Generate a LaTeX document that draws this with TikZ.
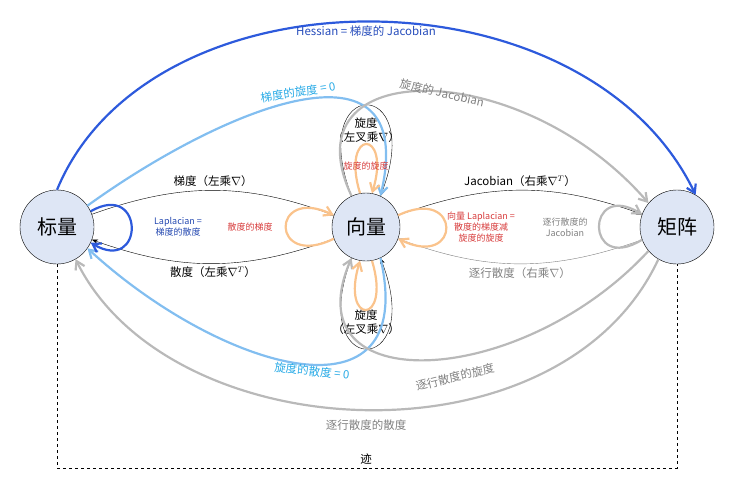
\documentclass[tikz,border=0pt]{standalone}
\usepackage{fontspec}
\setmainfont{Noto Sans CJK SC}
\usepackage{tikz}
\usetikzlibrary{arrows.meta}
\definecolor{deepblue}{RGB}{45,90,220}
\definecolor{skyblue}{RGB}{130,190,240}
\definecolor{skytext}{RGB}{40,170,230}
\definecolor{lightgray}{RGB}{185,185,185}
\definecolor{peach}{RGB}{250,195,140}
\definecolor{labred}{RGB}{215,60,60}
\definecolor{fillblue}{RGB}{222,230,245}
\tikzset{
  state/.style={shape=circle,draw=black,fill=fillblue,minimum size=74pt,font=\fontsize{20}{22}\selectfont},
  lbl/.style={font=\fontsize{11.5}{13.5}\selectfont,align=center},
  slbl/.style={font=\fontsize{9}{11}\selectfont,align=center},
  thin arrow/.style={-{Stealth[length=6pt]},thin},
  big arrow/.style={-{Straight Barb[length=8pt,width=10pt]},line width=2.2pt}
}
\begin{document}
\begin{tikzpicture}[x=1pt,y=-1pt]
	\useasboundingbox (0,0) rectangle (735,483);

	\node[state] (s) at (57, 227)  {标量};
	\node[state,minimum size=68pt] (v) at (366, 227) {向量};
	\node[state] (m) at (677, 227) {矩阵};

	% trace
	\draw[dashed,thin] (s.south) |- (366,468) node[above,lbl] (tr) {迹} -| (m.south);

	% black edges
	\path[thin arrow] (s) edge[bend left=20] node[above,lbl] {梯度（左乘$\nabla$）} (v);
	\path[thin arrow] (v) edge[bend left=20] node[below,lbl] {散度（左乘$\nabla^T$）} (s);
	\path[thin arrow] (v) edge[bend left=20] node[above,lbl] {Jacobian（右乘$\nabla^T$）} (m);
	\path[thin arrow,draw=gray] (m) edge[bend left=20] node[below,lbl,text=gray] {逐行散度（右乘$\nabla$）} (v);
	\draw[thin arrow] (v.115) .. controls (305,75) and (427,75) .. (v.65);
	\node[lbl] (c1) at (366, 130) {旋度\\（左叉乘$\nabla$）};
	\draw[thin arrow] (v.-115) .. controls (305,379) and (427,379) .. (v.-65);
	\node[lbl] (c2) at (366, 322) {旋度\\（左叉乘$\nabla$）};

	% second-order
	\draw[big arrow,draw=deepblue] (s.north) .. controls (150,-35) and (585,-35) .. (m.60);
	\node[lbl,text=deepblue!85!black] (hs) at (366, 31) {Hessian = 梯度的 Jacobian};
	\draw[big arrow,draw=skyblue] (s.35) .. controls (220,110) and (420,25) .. (v.65);
	\node[lbl,text=skytext,rotate=9] (gc) at (298, 92) {梯度的旋度 = 0};
	\draw[big arrow,draw=lightgray] (v.115) .. controls (285,55) and (520,55) .. (m.140);
	\node[lbl,text=gray,rotate=-13] (cj) at (442, 93) {旋度的 Jacobian};
	\draw[big arrow,draw=skyblue] (v.-65) .. controls (420,430) and (220,370) .. (s.-35);
	\node[lbl,text=skytext,rotate=-6] (cd) at (312, 371) {旋度的散度 = 0};
	\draw[big arrow,draw=lightgray] (m.-140) .. controls (520,390) and (290,400) .. (v.-115);
	\node[lbl,text=gray,rotate=14] (rc) at (455, 377) {逐行散度的旋度};
	\draw[big arrow,draw=lightgray] (m.-120) .. controls (560,470) and (170,450) .. (s.-60);
	\node[lbl,text=gray] (rd) at (366, 425) {逐行散度的散度};

	% loops
	\draw[big arrow,draw=deepblue] (s.25) .. controls (145,180) and (145,275) .. (s.-25);
	\node[slbl,text=deepblue!80!black] (lap) at (178, 227) {Laplacian =\\梯度的散度};
	\draw[big arrow,draw=peach] (v.-160) .. controls (270,270) and (270,185) .. (v.160);
	\node[slbl,text=labred] (gd) at (250, 227) {散度的梯度};
	\draw[big arrow,draw=peach] (v.20) .. controls (462,185) and (462,270) .. (v.-20);
	\node[slbl,text=labred] (vl) at (481, 227) {向量 Laplacian =\\散度的梯度减\\旋度的旋度};
	\draw[big arrow,draw=peach] (v.100) .. controls (340,128) and (392,128) .. (v.80);
	\node[slbl,text=labred] (cc) at (366, 166) {旋度的旋度};
	\draw[big arrow,draw=peach] (v.-80) .. controls (392,326) and (340,326) .. (v.-100);
	\draw[big arrow,draw=lightgray] (m.-160) .. controls (585,275) and (585,180) .. (m.160);
	\node[slbl,text=gray] (rj) at (565, 227) {逐行散度的\\Jacobian};

\end{tikzpicture}
\end{document}
